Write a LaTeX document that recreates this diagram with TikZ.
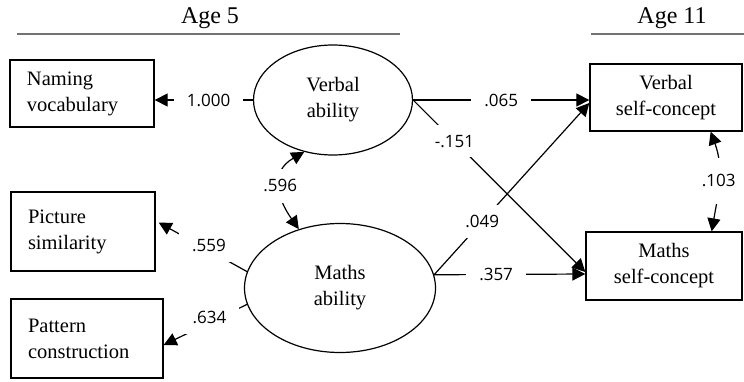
\documentclass[tikz,border=0pt]{standalone}
\usepackage{fontspec}
\setmainfont{Liberation Serif}
\newfontfamily\lblfont{Open Sans}
\usetikzlibrary{shapes.geometric,arrows.meta,calc}
\begin{document}
\begin{tikzpicture}[x=1pt,y=1pt,
  box/.style={draw=black, line width=1.3pt, rectangle, inner ysep=2pt, font=\fontsize{20.5}{26}\selectfont},
  lbox/.style={box, align=left, inner xsep=17pt},
  rbox/.style={box, align=center, inner xsep=5pt},
  latent/.style={draw=black, line width=1.2pt, ellipse, inner sep=0pt, align=center, font=\fontsize{20.5}{26}\selectfont},
  pathc/.style={line width=1.2pt, -{Triangle[length=13pt,width=13pt]}},
  cov/.style={line width=1.2pt, {Triangle[length=13pt,width=13pt]}-{Triangle[length=13pt,width=13pt]}},
  coef/.style={fill=white, inner xsep=13pt, inner ysep=10pt, font=\lblfont\fontsize{17}{19}\selectfont},
  title/.style={font=\fontsize{24}{28}\selectfont},
  rulel/.style={draw=black!55, line width=1.5pt}
]
\useasboundingbox (0,0) rectangle (744,381);

% titles
\node[title] (age5) at (210,363) {Age 5};
\node[title] (age11) at (672,363) {Age 11};
\coordinate (r1a) at (17,347);
\coordinate (r1b) at (400,347);
\coordinate (r2a) at (591,347);
\coordinate (r2b) at (744,347);
\draw[rulel] (r1a) -- (r1b);
\draw[rulel] (r2a) -- (r2b);

% observed indicators
\node[lbox, minimum width=144pt, minimum height=67pt, text width=110pt] (naming) at (82,287.5) {Naming\\vocabulary};
\node[lbox, minimum width=144pt, minimum height=79pt, text width=110pt] (picture) at (83,149.5) {Picture\\similarity};
\node[lbox, minimum width=152pt, minimum height=79pt, text width=118pt] (pattern) at (87,42.5) {Pattern\\construction};

% outcomes
\node[rbox, minimum width=152pt, minimum height=67pt, text width=142pt] (vsc) at (666,283.5) {Verbal\\self-concept};
\node[rbox, minimum width=156pt, minimum height=68pt, text width=146pt] (msc) at (664,115) {Maths\\self-concept};

% latent
\node[latent, minimum width=159pt, minimum height=110pt] (verbal) at (333,281) {Verbal\\ability};
\node[latent, minimum width=191pt, minimum height=129pt] (maths) at (340,93) {Maths\\ability};

% paths
\draw[pathc] (verbal.west) -- (verbal.west -| naming.east) node[coef, pos=0.45] (c1) {1.000};
\draw[pathc] (verbal.east) -- (verbal.east -| vsc.west) node[coef, midway] (c2) {.065};
\draw[pathc] (verbal.east) -- ($(msc.west)+(0,-6)$) node[coef, pos=0.24] (c3) {-.151};
\draw[pathc] (maths.8) -- ($(vsc.west)+(0,-5.5)$) node[coef, pos=0.31] (c4) {.049};
\draw[pathc] (maths.8) -- ($(msc.west)+(0,-8)$) node[coef, pos=0.41] (c5) {.357};
\draw[pathc] (maths.170) -- ($(picture.east)+(3,9)$) node[coef, pos=0.43, yshift=5pt] (c6) {.559};
\draw[pathc] (maths.190) -- ($(pattern.east)+(0,-6.5)$) node[coef, pos=0.45, yshift=5pt] (c7) {.634};

% covariances
\draw[cov] (maths.125) to[out=125, in=210, looseness=1.3] node[coef, inner ysep=11pt] (c8) {.596} (verbal.-119);
\draw[cov] ($(msc.north east)+(-31,0)$) to[out=80, in=-70] node[coef, inner ysep=17pt, inner xsep=6pt] (c9) {.103} ($(vsc.south east)+(-32,0)$);
\end{tikzpicture}
\end{document}
